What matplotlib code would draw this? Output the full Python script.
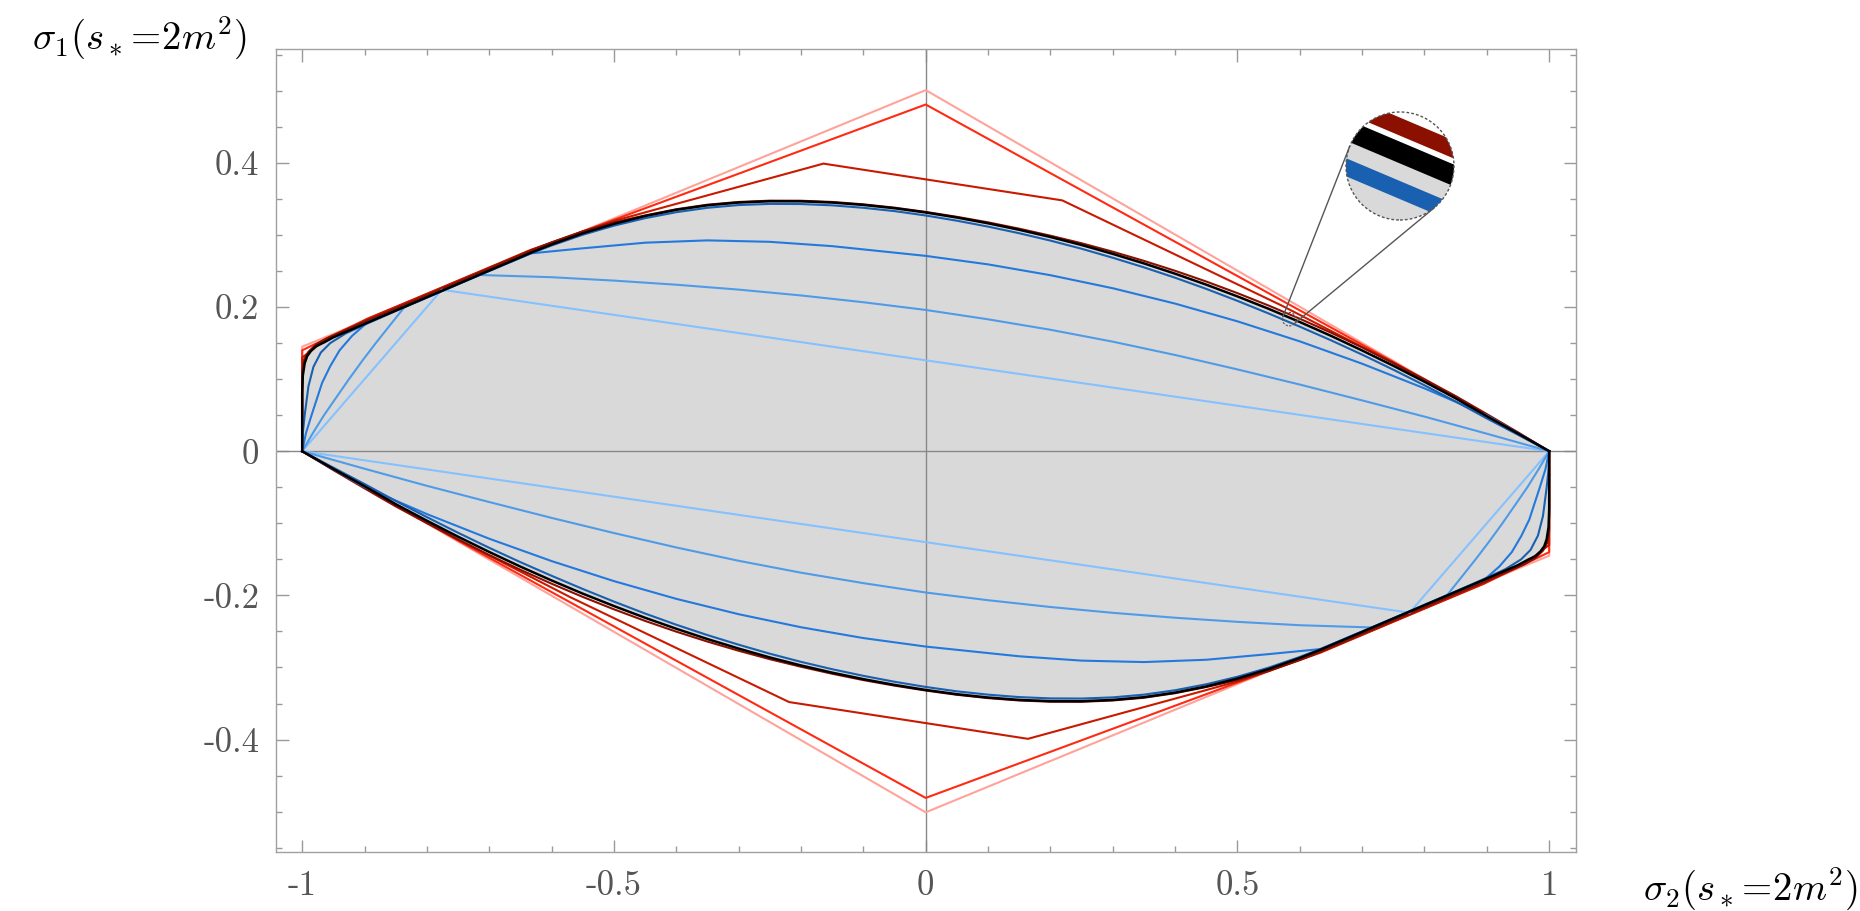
import numpy as np
import matplotlib
matplotlib.use('Agg')
import matplotlib.pyplot as plt
from matplotlib.patches import Circle, Polygon
from matplotlib.lines import Line2D
from matplotlib.transforms import IdentityTransform

plt.rcParams['mathtext.fontset'] = 'cm'

# upper halves (sigma2 from -1 to 1); the lower half is the point reflection (x,y)->(-x,-y)
black_x = [-1.0, -1.0, -0.999, -0.996, -0.992, -0.986, -0.978, -0.965, -0.95, -0.93, -0.9, -0.836,
           -0.776, -0.716, -0.633, -0.6, -0.55, -0.5, -0.45, -0.4, -0.35, -0.3, -0.25, -0.2, -0.15,
           -0.1, -0.05, 0.0, 0.05, 0.1, 0.15, 0.2, 0.25, 0.3, 0.35, 0.4, 0.45, 0.5, 0.55, 0.6, 0.65,
           0.7, 0.75, 0.8, 0.85, 0.9, 0.95, 1.0]
black_y = [0.0, 0.08, 0.105, 0.122, 0.132, 0.139, 0.1455, 0.151, 0.158, 0.1655, 0.1767, 0.2004,
           0.2226, 0.2448, 0.2755, 0.2869, 0.3023, 0.3154, 0.3263, 0.3349, 0.3412, 0.345, 0.3468,
           0.3467, 0.345, 0.3417, 0.3371, 0.3312, 0.3242, 0.3162, 0.3072, 0.2972, 0.2861, 0.2738,
           0.2606, 0.2463, 0.2311, 0.2148, 0.1976, 0.1793, 0.1601, 0.1398, 0.1186, 0.0964, 0.0735,
           0.0485, 0.0245, 0.0]

blue1_x = [-1.0, -0.776, 1.0]
blue1_y = [0.0, 0.224, 0.0]

blue2_x = [-1.0, -0.983, -0.965, -0.945, -0.925, -0.904, -0.882, -0.859, -0.836, -0.776, -0.716,
           -0.6, -0.5, -0.4, -0.3, -0.2, -0.1, 0.0, 0.1, 0.2, 0.3, 0.4, 0.5, 0.6, 0.7, 0.8, 0.9, 1.0]
blue2_y = [0.0, 0.025, 0.05, 0.075, 0.10, 0.125, 0.15, 0.175, 0.2, 0.2222, 0.2445,
           0.2414, 0.2367, 0.231, 0.2242, 0.2161, 0.2067, 0.196, 0.183, 0.1685, 0.152, 0.1335,
           0.1135, 0.0925, 0.0705, 0.048, 0.0243, 0.0]

blue3_x = [-1.0, -0.994, -0.985, -0.968, -0.955, -0.94, -0.92, -0.895, -0.836, -0.776, -0.716,
           -0.633, -0.55, -0.45, -0.35, -0.25, -0.15, -0.05, 0.0, 0.1, 0.2, 0.3, 0.4, 0.5, 0.6,
           0.7, 0.8, 0.9, 1.0]
blue3_y = [0.0, 0.025, 0.05, 0.095, 0.118, 0.14, 0.16, 0.179, 0.2, 0.2222, 0.2443,
           0.2745, 0.2815, 0.2893, 0.2925, 0.2905, 0.2845, 0.2755, 0.271, 0.2592, 0.2442, 0.2261,
           0.2048, 0.1802, 0.1524, 0.1214, 0.0872, 0.0498, 0.0]

blue4_x = [-1.0, -0.999, -0.996, -0.99, -0.982, -0.97, -0.955, -0.93, -0.9, -0.836, -0.776, -0.716,
           -0.633, -0.6, -0.55, -0.5, -0.45, -0.4, -0.35, -0.3, -0.25, -0.2, -0.15, -0.1, -0.05,
           0.0, 0.05, 0.1, 0.15, 0.2, 0.25, 0.3, 0.35, 0.4, 0.45, 0.5, 0.55, 0.6, 0.65, 0.7, 0.75,
           0.8, 0.85, 0.9, 0.95, 1.0]
blue4_y = [0.0, 0.025, 0.05, 0.09, 0.117, 0.137, 0.150, 0.1635, 0.1755, 0.1997, 0.222, 0.2442,
           0.2745, 0.2854, 0.3003, 0.3129, 0.3233, 0.3316, 0.3377, 0.3415, 0.3431, 0.3429, 0.3411,
           0.3377, 0.3331, 0.327, 0.3198, 0.3116, 0.3024, 0.2922, 0.2809, 0.2684, 0.2551, 0.2407,
           0.2252, 0.2086, 0.1911, 0.1728, 0.1539, 0.1340, 0.1131, 0.0914, 0.069, 0.0455, 0.0228, 0.0]

red1_x = [-1.0, -1.0, 0.0, 1.0]
red1_y = [0.0, 0.145, 0.501, 0.0]

red2_x = [-1.0, -1.0, -0.895, -0.633, 0.0, 0.75, 1.0]
red2_y = [0.0, 0.140, 0.184, 0.2785, 0.481, 0.124, 0.0]

red3_x = [-1.0, -1.0, -0.97, -0.895, -0.633, -0.5, -0.164, 0.219, 0.57, 0.75, 1.0]
red3_y = [0.0, 0.130, 0.150, 0.1835, 0.2795, 0.3195, 0.399, 0.348, 0.2025, 0.1225, 0.0]

red4_x = [-1.0, -1.0, -0.997, -0.99, -0.978, -0.96, -0.93, -0.9, -0.776, -0.633, -0.6, -0.55, -0.5,
          -0.45, -0.4, -0.35, -0.3, -0.25, -0.2, -0.15, -0.1, -0.05, 0.0, 0.05, 0.1, 0.15, 0.2,
          0.25, 0.3, 0.35, 0.4, 0.45, 0.5, 0.55, 0.6, 0.65, 0.7, 0.75, 0.8, 0.85, 0.9, 0.95, 1.0]
red4_y = [0.0, 0.11, 0.127, 0.138, 0.148, 0.157, 0.1685, 0.1797, 0.2256, 0.2785, 0.2898, 0.305,
          0.3175, 0.3271, 0.3357, 0.342, 0.3458, 0.3476, 0.3475, 0.3458, 0.3425, 0.3379, 0.332,
          0.3252, 0.3175, 0.3087, 0.299, 0.2885, 0.2768, 0.2641, 0.2503, 0.2354, 0.2193, 0.2021,
          0.1838, 0.1645, 0.144, 0.1224, 0.0998, 0.0765, 0.0515, 0.0262, 0.0]

xticks = [-1, -0.5, 0, 0.5, 1]
xtick_labels = ['-1', '-0.5', '0', '0.5', '1']
yticks = [-0.4, -0.2, 0, 0.2, 0.4]
ytick_labels = ['-0.4', '-0.2', '0', '0.2', '0.4']

spot = (0.583, 0.1832)  # point on the boundary that is magnified

curves = [
    (red1_x, red1_y, '#ffa39a', 1.5),
    (red2_x, red2_y, '#ff2a12', 1.5),
    (red3_x, red3_y, '#c81a00', 1.5),
    (red4_x, red4_y, '#8b1000', 1.5),
    (blue1_x, blue1_y, '#85c1ff', 1.5),
    (blue2_x, blue2_y, '#4f9be8', 1.5),
    (blue3_x, blue3_y, '#2479dd', 1.5),
    (blue4_x, blue4_y, '#1a60b0', 1.5),
    (black_x, black_y, 'black', 1.8),
]


def draw_region(a, scale=1.0, clip=None):
    arts = []
    bx, by = np.array(black_x), np.array(black_y)
    pts = np.vstack([np.column_stack([bx, by]), np.column_stack([-bx, -by])])
    arts.append(a.add_patch(Polygon(pts, closed=True, fc='#d9d9d9', ec='none', zorder=1)))
    for x, y, c, lw in curves:
        x, y = np.array(x), np.array(y)
        arts += a.plot(x, y, color=c, lw=lw * scale, zorder=3, solid_joinstyle='round')
        arts += a.plot(-x, -y, color=c, lw=lw * scale, zorder=3, solid_joinstyle='round')
    if clip is not None:
        for art in arts:
            art.set_clip_path(clip)
    return arts


W, H = 1860, 911
fig = plt.figure(figsize=(W / 100, H / 100), dpi=100)
ax = fig.add_axes([276 / W, 1 - 852 / H, 1300 / W, 803 / H])
ax.set_xlim(-1.042, 1.043)
ax.set_ylim(-0.556, 0.558)

draw_region(ax)
ax.axhline(0, color='#888888', lw=1, zorder=2)
ax.axvline(0, color='#888888', lw=1, zorder=2)

ax.set_xticks(xticks)
ax.set_xticklabels(xtick_labels, fontfamily='cmr10', fontsize=25, color='#555555')
ax.set_yticks(yticks)
ax.set_yticklabels(ytick_labels, fontfamily='cmr10', fontsize=25, color='#555555')
ax.set_xticks(np.arange(-1, 1.01, 0.1), minor=True)
ax.set_yticks(np.arange(-0.55, 0.56, 0.05), minor=True)
ax.tick_params(which='both', direction='in', top=True, right=True, color='#999999', width=1)
ax.tick_params(which='major', length=9)
ax.tick_params(which='minor', length=4.5)
ax.tick_params(axis='x', pad=13)
ax.tick_params(axis='y', pad=12)
for s in ax.spines.values():
    s.set_color('#a0a0a0')
    s.set_linewidth(1)

fig.text(32 / W, 1 - 50 / H, r'$\sigma_1(s_*\!=\!2m^2)$', fontsize=28, ha='left', va='baseline')
fig.text(1643 / W, 1 - 901 / H, r'$\sigma_2(s_*\!=\!2m^2)$', fontsize=28, ha='left', va='baseline')

# magnifier
M = 8.0
R = 54.0
big = np.array([1400.0, H - 166.0])
p0 = ax.transData.transform((0, 0))
p1 = ax.transData.transform((1, 1))
sx, sy = p1[0] - p0[0], p1[1] - p0[1]
small = ax.transData.transform(spot)
r = R / M

ins = fig.add_axes([(big[0] - R) / W, (big[1] - R) / H, 2 * R / W, 2 * R / H])
ins.set_xlim(spot[0] - r / sx, spot[0] + r / sx)
ins.set_ylim(spot[1] - r / sy, spot[1] + r / sy)
ins.axis('off')
clip = Circle((0.5, 0.5), 0.5, transform=ins.transAxes)
ins.add_patch(Circle((0.5, 0.5), 0.5, transform=ins.transAxes, fc='white', ec='none', zorder=0))
draw_region(ins, scale=M, clip=clip)
ins.add_patch(Circle((0.5, 0.5), 0.5, transform=ins.transAxes, fill=False, ec='#555555',
                     lw=1, ls=(0, (2, 1.5)), zorder=10, clip_on=False))

fig.add_artist(Circle(small, r, transform=IdentityTransform(), fill=False, ec='#555555',
                      lw=0.8, ls=(0, (2, 1.5)), zorder=5))

# external tangents between the two circles
d = big - small
dist = np.hypot(*d)
u = d / dist
perp = np.array([-u[1], u[0]])
ca = (R - r) / dist
sa = np.sqrt(1 - ca ** 2)
for sgn in (1, -1):
    n = ca * u + sgn * sa * perp
    t1 = small - r * n
    t2 = big - R * n
    fig.add_artist(Line2D([t1[0], t2[0]], [t1[1], t2[1]], transform=IdentityTransform(),
                          color='#555555', lw=1, zorder=5))

fig.savefig('out.png', dpi=100)
